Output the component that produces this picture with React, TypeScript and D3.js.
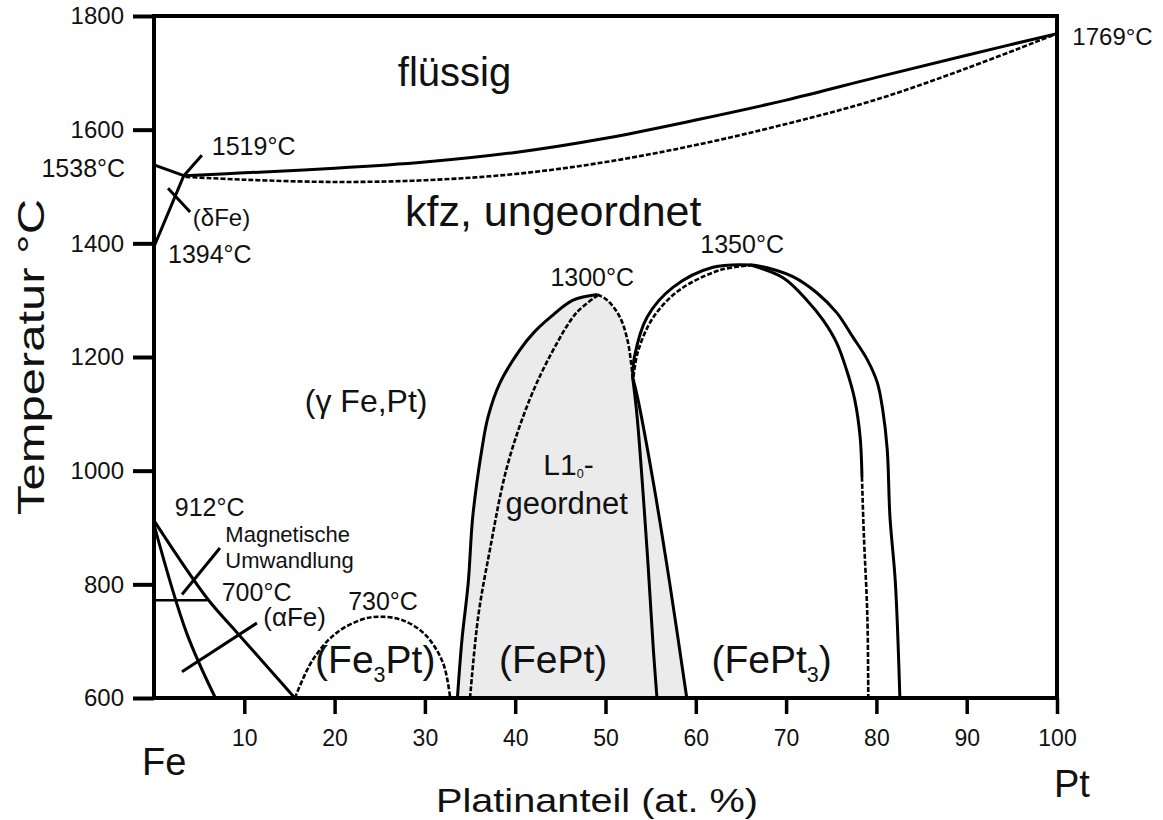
import React, { useRef, useEffect } from 'react';
import * as d3 from 'd3';

// phase boundaries, [at.% Pt, temperature °C]
const liquidus = [[3.3, 1519], [10, 1524], [20, 1532], [30, 1543], [40, 1560], [50, 1585], [60, 1617], [70, 1652], [80, 1692], [90, 1731], [100, 1769]];
const solidus = [[3.5, 1517], [10, 1512], [20, 1508], [30, 1511], [40, 1522], [50, 1543], [60, 1573], [70, 1610], [80, 1653], [90, 1708], [100, 1769]];
const deltaLiquidus = [[0, 1538], [3.3, 1519]];
const deltaSolidus = [[0, 1394], [3.3, 1519]];
const gammaAlphaOuter = [[0, 912], [5.9, 775], [9.2, 715], [15.6, 600]];
const gammaAlphaInner = [[0, 905], [3.6, 715], [6.8, 600]];
const curieLine = [[0, 772], [5.9, 772]];
const fe3ptDome = [[15.6, 600], [17.5, 665], [20, 712], [23, 738], [25, 743], [27.5, 737], [30, 712], [32, 662], [32.8, 600]];
const feptOuterLeft = [[33.6, 600], [34.1, 702], [34.8, 803], [35.3, 919], [36.3, 1037], [37.0, 1095], [38.3, 1154], [40.5, 1212], [42.0, 1242], [43.9, 1270], [46.4, 1300], [49.1, 1310]];
const feptInnerLeft = [[35, 600], [35.9, 743], [37.2, 861], [39.1, 1007], [41.6, 1125], [44.2, 1212], [46.8, 1278], [49.1, 1308]];
const feptRight = [[49.1, 1310], [50.2, 1300], [51.6, 1270], [52.5, 1225], [53, 1165]];
const feptRightLow = [[53, 1165], [53.5, 1095], [54.6, 861], [55.3, 685], [55.7, 600]];
const fept3LeftLow = [[53, 1165], [53.6, 1125], [55.3, 979], [57.1, 803], [59, 600]];
const fept3OuterLeft = [[53, 1165], [53.2, 1200], [54.6, 1270], [57.5, 1323], [61.9, 1358], [66.3, 1362]];
const fept3InnerLeft = [[53.1, 1165], [53.6, 1210], [55.3, 1270], [58.2, 1318], [62.7, 1353], [66, 1361]];
const fept3InnerRight = [[66, 1362], [69.7, 1339], [72.3, 1300], [74.1, 1265], [75.6, 1225], [76.7, 1177], [77.6, 1125], [78.2, 1059], [78.4, 989]];
const fept3InnerRightLow = [[78.4, 989], [78.6, 891], [79.0, 743], [79.1, 600]];
const fept3OuterRight = [[66.3, 1362], [67.9, 1357], [70.8, 1341], [73.4, 1313], [75.6, 1278], [77.4, 1235], [79.0, 1195], [80.1, 1155], [80.7, 1107], [81.2, 1037], [81.5, 919], [82.1, 803], [82.6, 600]];

const xTicks = [10, 20, 30, 40, 50, 60, 70, 80, 90, 100];
const yTicks = [600, 800, 1000, 1200, 1400, 1600, 1800];

// leader lines for the annotations
const leaders = [
  [[3.3, 1519], [5.3, 1555]],
  [[1.55, 1497], [4.0, 1455]],
  [[3.1, 782], [7.3, 864]],
  [[3.1, 646], [11.4, 732]],
];

// text, at.%, °C (baseline), font size, anchor
const labels = [
  { text: 'flüssig', x: 27.0, t: 1677, size: 40, anchor: 'start' },
  { text: 'kfz, ungeordnet', x: 27.8, t: 1431, size: 43, anchor: 'start' },
  { text: '(γ Fe,Pt)', x: 16.7, t: 1103, size: 32, anchor: 'start' },
  { text: 'geordnet', x: 45.7, t: 924, size: 31, anchor: 'middle' },
  { text: '1769°C', x: 101.7, t: 1749, size: 24, anchor: 'start' },
  { text: '1519°C', x: 6.4, t: 1555, size: 25, anchor: 'start' },
  { text: '1538°C', x: -3.2, t: 1517, size: 25, anchor: 'end' },
  { text: '(δFe)', x: 4.3, t: 1431, size: 24, anchor: 'start' },
  { text: '1394°C', x: 1.55, t: 1366, size: 25, anchor: 'start' },
  { text: '1300°C', x: 43.9, t: 1325, size: 25, anchor: 'start' },
  { text: '1350°C', x: 60.5, t: 1383, size: 25, anchor: 'start' },
  { text: '912°C', x: 2.3, t: 920, size: 25, anchor: 'start' },
  { text: 'Magnetische', x: 7.9, t: 875, size: 22, anchor: 'start' },
  { text: 'Umwandlung', x: 7.9, t: 829, size: 22, anchor: 'start' },
  { text: '700°C', x: 7.5, t: 771, size: 25, anchor: 'start' },
  { text: '(αFe)', x: 12.1, t: 727, size: 26, anchor: 'start' },
  { text: '730°C', x: 21.5, t: 755, size: 25, anchor: 'start' },
];

// phase names with a subscript part
const phaseNames = [
  { pre: 'L1', sub: '0', post: '-', x: 45.9, t: 992, size: 30, subScale: 0.42, subShift: 0.1 },
  { pre: '(Fe', sub: '3', post: 'Pt)', x: 24.5, t: 644, size: 39, subScale: 0.55, subShift: 0.22 },
  { pre: '(FePt)', sub: '', post: '', x: 44.2, t: 644, size: 39, subScale: 0.55, subShift: 0.22 },
  { pre: '(FePt', sub: '3', post: ')', x: 68.4, t: 644, size: 39, subScale: 0.55, subShift: 0.22 },
];

const FONT = '"Liberation Sans", Arial, sans-serif';

const PhaseDiagram = () => {
  const chartRef = useRef(null);
  useEffect(() => {
    const width = 1163;
    const height = 820;
    const left = 154, right = 1057, top = 16, bottom = 698;

    const root = d3.select(chartRef.current);
    root.selectAll('*').remove();
    root.attr('width', width).attr('height', height).style('font-family', FONT);
    const svg = root.append('g');

    const x = d3.scaleLinear().domain([0, 100]).range([left, right]);
    const y = d3.scaleLinear().domain([600, 1800]).range([bottom, top]);

    const line = d3
      .line()
      .x((d) => x(d[0]))
      .y((d) => y(d[1]))
      .curve(d3.curveCatmullRom.alpha(0.5));

    // grey L1_0 region
    const fill = [...feptOuterLeft, ...feptRight.slice(1), ...fept3LeftLow.slice(1)];
    svg
      .append('path')
      .attr('d', line(fill) + 'Z')
      .attr('fill', '#ebebeb')
      .attr('stroke', 'none');

    const solid = [liquidus, deltaLiquidus, deltaSolidus, gammaAlphaOuter, gammaAlphaInner, feptOuterLeft, feptRightLow, fept3LeftLow, fept3OuterLeft, fept3InnerRight, fept3OuterRight];
    const dashed = [solidus, fe3ptDome, feptInnerLeft, feptRight, fept3InnerLeft, fept3InnerRightLow];

    svg
      .selectAll('.solid')
      .data(solid)
      .enter()
      .append('path')
      .attr('class', 'solid')
      .attr('d', (d) => line(d))
      .attr('fill', 'none')
      .attr('stroke', '#000')
      .attr('stroke-width', 3);

    svg
      .selectAll('.dashed')
      .data(dashed)
      .enter()
      .append('path')
      .attr('class', 'dashed')
      .attr('d', (d) => line(d))
      .attr('fill', 'none')
      .attr('stroke', '#000')
      .attr('stroke-width', 2.6)
      .attr('stroke-dasharray', '5,2');

    const straight = d3.line().x((d) => x(d[0])).y((d) => y(d[1]));
    svg
      .append('path')
      .attr('d', straight(curieLine))
      .attr('stroke', '#000')
      .attr('stroke-width', 2.5);

    svg
      .selectAll('.leader')
      .data(leaders)
      .enter()
      .append('path')
      .attr('class', 'leader')
      .attr('d', (d) => straight(d))
      .attr('stroke', '#000')
      .attr('stroke-width', 3);

    // frame and axes
    const yAxis = d3.axisLeft(y).tickValues(yTicks).tickSize(21).tickPadding(9).tickFormat(d3.format('d'));
    const gy = svg.append('g').attr('transform', `translate(${left},0)`).call(yAxis);
    gy.select('.domain').remove();
    gy.selectAll('line').attr('stroke', '#000').attr('stroke-width', 4);
    gy.selectAll('text').attr('font-size', '24px').attr('font-family', FONT).attr('fill', '#111');

    const xAxis = d3.axisBottom(x).tickValues(xTicks).tickSize(16).tickPadding(16).tickFormat(d3.format('d'));
    const gx = svg.append('g').attr('transform', `translate(0,${bottom})`).call(xAxis);
    gx.select('.domain').remove();
    gx.selectAll('line').attr('stroke', '#000').attr('stroke-width', 3.5);
    gx.selectAll('text').attr('font-size', '23px').attr('font-family', FONT).attr('fill', '#111');

    svg
      .append('rect')
      .attr('x', left)
      .attr('y', top)
      .attr('width', right - left)
      .attr('height', bottom - top)
      .attr('fill', 'none')
      .attr('stroke', '#000')
      .attr('stroke-width', 4);

    // labels
    svg
      .selectAll('.lbl')
      .data(labels)
      .enter()
      .append('text')
      .attr('class', 'lbl')
      .attr('x', (d) => x(d.x))
      .attr('y', (d) => y(d.t))
      .attr('text-anchor', (d) => d.anchor)
      .attr('font-size', (d) => d.size)
      .attr('fill', '#111')
      .text((d) => d.text);

    const names = svg
      .selectAll('.phase')
      .data(phaseNames)
      .enter()
      .append('text')
      .attr('class', 'phase')
      .attr('x', (d) => x(d.x))
      .attr('y', (d) => y(d.t))
      .attr('text-anchor', 'middle')
      .attr('font-size', (d) => d.size)
      .attr('fill', '#111');
    names.append('tspan').text((d) => d.pre);
    names
      .filter((d) => d.sub)
      .append('tspan')
      .attr('font-size', (d) => d.size * d.subScale)
      .attr('dy', (d) => d.size * d.subShift)
      .text((d) => d.sub);
    names
      .filter((d) => d.sub)
      .append('tspan')
      .attr('dy', (d) => -d.size * d.subShift)
      .text((d) => d.post);

    svg
      .append('text')
      .attr('x', 142)
      .attr('y', 775)
      .attr('font-size', 38)
      .attr('fill', '#111')
      .text('Fe');
    svg
      .append('text')
      .attr('x', 1054)
      .attr('y', 797)
      .attr('font-size', 38)
      .attr('fill', '#111')
      .text('Pt');

    svg
      .append('text')
      .attr('x', 436)
      .attr('y', 812)
      .attr('font-size', 34)
      .attr('textLength', 322)
      .attr('lengthAdjust', 'spacingAndGlyphs')
      .attr('fill', '#111')
      .text('Platinanteil (at. %)');
    svg
      .append('text')
      .attr('transform', `translate(44,515) rotate(-90)`)
      .attr('font-size', 37)
      .attr('textLength', 316)
      .attr('lengthAdjust', 'spacingAndGlyphs')
      .attr('fill', '#111')
      .text('Temperatur °C');
  }, []);

  return <svg ref={chartRef} style={{ position: 'absolute', left: 0, top: 0 }}></svg>;
};

export default function App() {
  return <PhaseDiagram />;
}
